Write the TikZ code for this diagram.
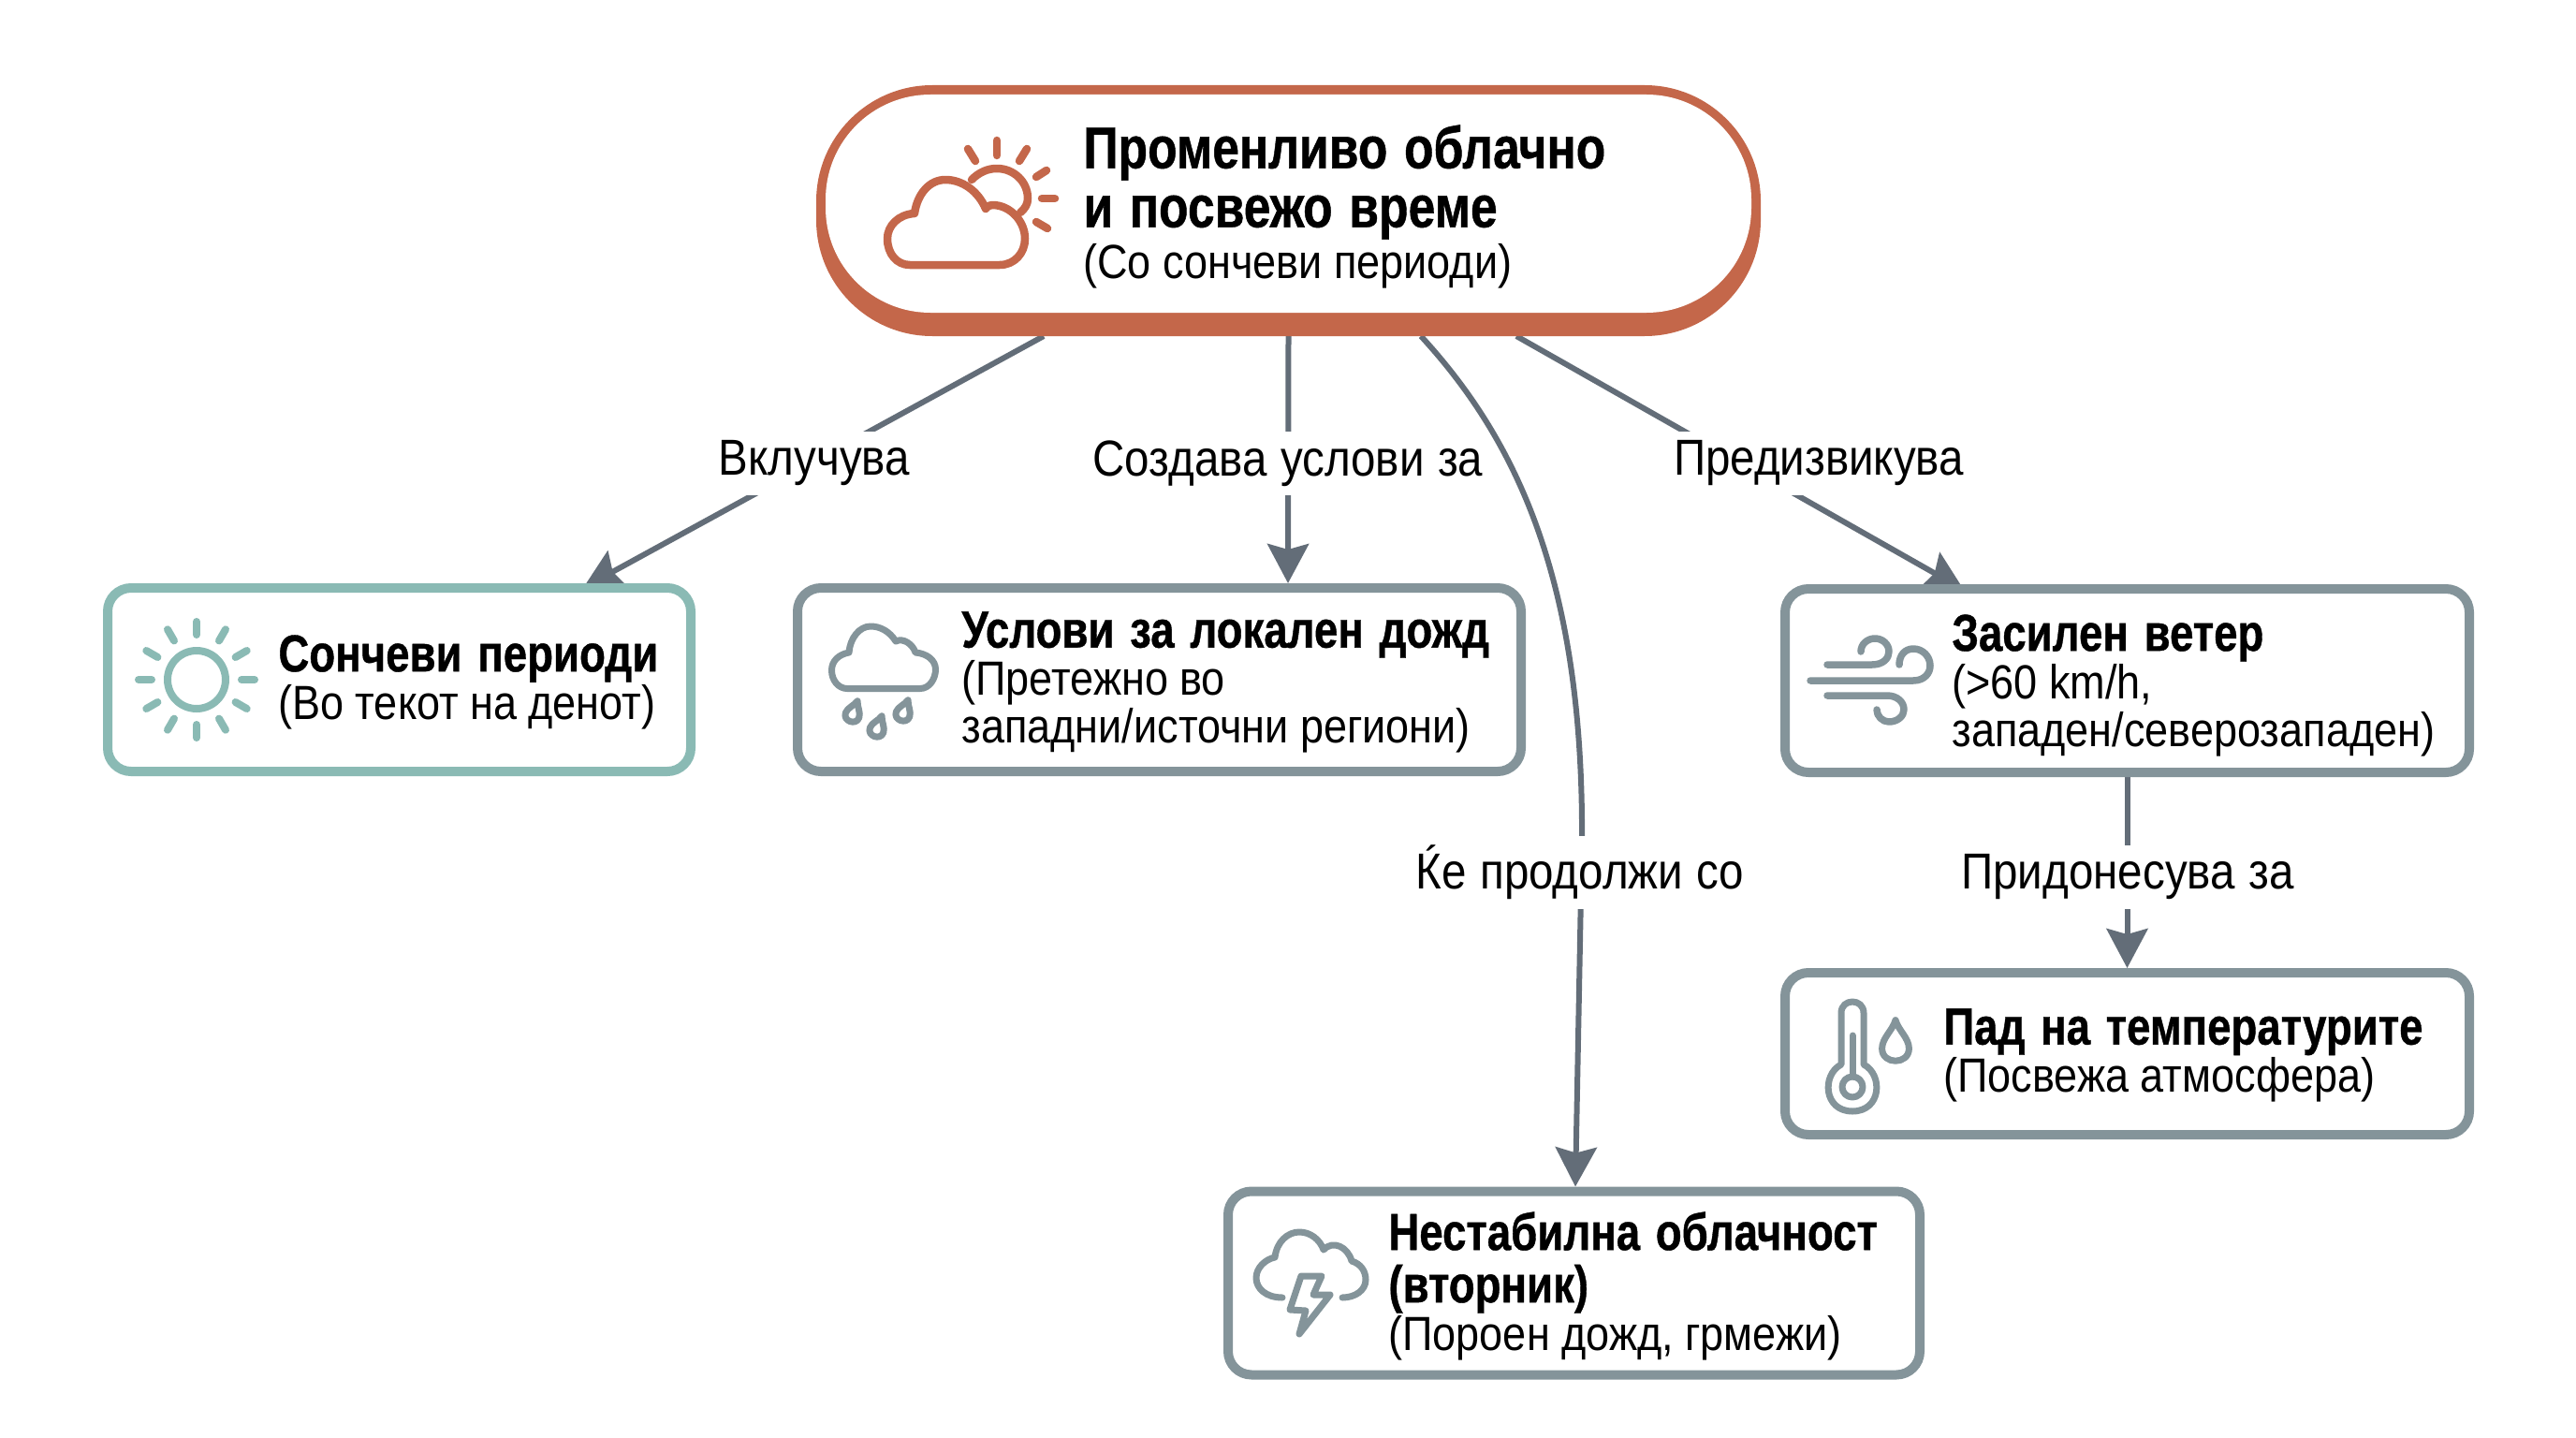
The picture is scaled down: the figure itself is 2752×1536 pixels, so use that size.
\documentclass[tikz,border=0pt]{standalone}
\usepackage{fontspec}
\setmainfont[FakeStretch=0.88,WordSpace=1.1,BoldFeatures={FakeStretch=0.82,WordSpace=1.5,FakeBold=0.7}]{Liberation Sans}
\usetikzlibrary{arrows.meta,backgrounds}
\definecolor{rustmain}{HTML}{C4674A}
\definecolor{tealbox}{HTML}{8ABAB4}
\definecolor{slatebox}{HTML}{84949A}
\definecolor{slatearrow}{HTML}{636D78}
\newcommand{\headfont}{\fontsize{27.8}{25.5}\selectfont\bfseries\spaceskip=.3em\relax}
\newcommand{\subfont}{\fontsize{25.6}{25.5}\selectfont\spaceskip=.24em\relax}

\begin{document}
\begin{tikzpicture}[
    x=0.5pt, y=-0.5pt,
    infobox/.style={rounded corners=12.5pt, line width=5pt, fill=white, outer sep=0pt},
    sunbox/.style={infobox, draw=tealbox, minimum height=98pt},
    greybox/.style={infobox, draw=slatebox, minimum height=98pt},
    blocktext/.style={anchor=north west, inner sep=0pt, text width=370pt, align=left},
    edgetext/.style={fill=white, inner xsep=3pt, inner ysep=5pt, font=\fontsize{27}{28}\selectfont},
    arrow/.style={-{Stealth[length=21pt, width=22pt, inset=3pt]}, line width=3pt, draw=slatearrow},
    icon/.style={line cap=round, line join=round},
    drop/.pic={\draw (0,-14) .. controls (2,-7) and (9,-2) .. (9,5) .. controls (9,16) and (-9,16) .. (-9,5) .. controls (-9,-2) and (-2,-7) .. (0,-14) -- cycle;}
  ]
    \useasboundingbox (0,0) rectangle (2752,1536);

    % top pill
    \node[fill=rustmain, rounded corners=62pt, minimum width=504.5pt, minimum height=134pt, inner sep=0pt, outer sep=0pt] (main) at (1376.5,225) {};
    \node[fill=white, rounded corners=56pt, minimum width=494.5pt, minimum height=116.5pt, inner sep=0pt] (maininner) at (1376.5,217.5) {};
    \node[blocktext] (maintext) at (1157,133) {{\fontsize{31.5}{31.5}\selectfont\bfseries\spaceskip=.28em\relax Променливо облачно\\и посвежо време\par}{\subfont\baselineskip=27.5pt (Со сончеви периоди)\par}};

    % boxes
    \node[sunbox, minimum width=311.5pt] (sun) at (426.5,726) {};
    \node[greybox, minimum width=386.5pt] (rain) at (1238.5,726) {};
    \node[greybox, minimum width=365.5pt] (wind) at (2272.5,727) {};
    \node[greybox, minimum width=365.5pt, minimum height=86.5pt] (temp) at (2272.5,1125.5) {};
    \node[greybox, minimum width=369.5pt] (storm) at (1681.5,1370.5) {};

    \node[blocktext] (suntext) at (297,678) {{\headfont Сончеви периоди\par}{\subfont (Во текот на денот)\par}};
    \node[blocktext] (raintext) at (1027,653) {{\headfont Услови за локален дожд\par}{\subfont (Претежно во\\западни/источни региони)\par}};
    \node[blocktext] (windtext) at (2085,656) {{\headfont Засилен ветер\par}{\subfont (>60 km/h,\\западен/северозападен)\par}};
    \node[blocktext] (temptext) at (2076,1077) {{\headfont Пад на температурите\par}{\subfont (Посвежа атмосфера)\par}};
    \node[blocktext] (stormtext) at (1483,1294) {{\headfont\baselineskip=28pt Нестабилна облачност\\(вторник)\par}{\subfont (Пороен дожд, грмежи)\par}};

    % connector labels
    \node[edgetext] (lblsun) at (870,495) {Вклучува};
    \node[edgetext] (lblrain) at (1376,495) {Создава услови за};
    \node[edgetext] (lblstorm) at (1688,932) {Ќе продолжи со};
    \node[edgetext] (lblwind) at (1943,495) {Предизвикува};
    \node[edgetext] (lbltemp) at (2273,937) {Придонесува за};

    \coordinate (stormbend) at (1690,900);

    \begin{pgfonlayer}{background}
      \draw[arrow] ([xshift=-130.75pt]main.south) -- ([xshift=98.25pt]sun.north);
      \draw[arrow] (main.south) -- ([xshift=68.75pt, yshift=2.5pt]rain.north);
      \draw[arrow] ([xshift=70.75pt]main.south) .. controls (1620,470) and (1692,620) .. (stormbend) -- ([xshift=0.75pt, yshift=2.5pt]storm.north);
      \draw[arrow] ([xshift=121.75pt]main.south) -- ([xshift=-87.25pt, yshift=-0.5pt]wind.north);
      \draw[arrow] (wind.south) -- ([yshift=2.5pt]temp.north);
    \end{pgfonlayer}

    % cloud and sun
    \begin{scope}[icon, draw=rustmain, line width=4.25pt]
      \draw (972,283) -- (1068,283) .. controls (1084,283) and (1095,270) .. (1095,255) .. controls (1095,237) and (1080,219) .. (1060,219) .. controls (1058,219) and (1055,220) .. (1053,223) .. controls (1045,204) and (1028,192) .. (1010,192) .. controls (993,192) and (980,207) .. (977,228) .. controls (960,229) and (948,241) .. (948,255) .. controls (948,271) and (958,283) .. (972,283) -- cycle;
      \draw (1038,192) .. controls (1046,184) and (1055,180) .. (1065,180) .. controls (1083,180) and (1098,194) .. (1098,212) .. controls (1098,218) and (1095,223) .. (1090,227);
      \draw (1065,150) -- (1065,166);
      \draw (1034,159) -- (1042,172);
      \draw (1097,159) -- (1089,172);
      \draw (1118,182) -- (1107,189);
      \draw (1113,212) -- (1127,212);
      \draw (1107,237) -- (1119,244);
    \end{scope}

    % sun
    \begin{scope}[icon, draw=tealbox, line width=4pt]
      \draw (210,726) circle[radius=31];
      \foreach \a in {0,30,...,330} {
        \draw (\a:48) ++(210,726) -- ++(\a:14);
      }
    \end{scope}

    % rain cloud
    \begin{scope}[icon, draw=slatebox, line width=3.5pt]
      \draw (905,735.5) -- (983,735.5) .. controls (993,735.5) and (999.5,725) .. (999.5,715) .. controls (999.5,705) and (990,698) .. (978,697) .. controls (975,688) and (965,681) .. (957,685) .. controls (950,674) and (940,669) .. (930,669) .. controls (918,669) and (908,682) .. (907,697) .. controls (896,699) and (888.5,706) .. (888.5,716) .. controls (888.5,727) and (896,735.5) .. (905,735.5) -- cycle;
      \pic[scale=0.85, rotate=-20] at (912,760) {drop};
      \pic[scale=0.85, rotate=-20] at (938,776) {drop};
      \pic[scale=0.85, rotate=-20] at (966,759) {drop};
    \end{scope}

    % wind
    \begin{scope}[icon, draw=slatebox, line width=3.75pt]
      \draw (1934,727) -- (2044,727) .. controls (2056,727) and (2062,719) .. (2062,711) .. controls (2062,701) and (2054,693) .. (2044,693) .. controls (2035,693) and (2029,700) .. (2029,710);
      \draw (1952,710) -- (2000,710) .. controls (2012,710) and (2018,703) .. (2018,696) .. controls (2018,688) and (2011,682) .. (2003,682) .. controls (1995,682) and (1988,688) .. (1988,696);
      \draw (1952,743) -- (2016,743) .. controls (2027,743) and (2034,750) .. (2034,758) .. controls (2034,765) and (2027,771) .. (2018,771) .. controls (2011,771) and (2005,765) .. (2005,758);
    \end{scope}

    % thermometer
    \begin{scope}[icon, draw=slatebox, line width=3.5pt]
      \draw (1967,1137) -- (1967,1082) .. controls (1967,1066) and (1991,1066) .. (1991,1082) -- (1991,1137) .. controls (2012,1148) and (2010,1187) .. (1979,1187) .. controls (1948,1187) and (1946,1148) .. (1967,1137) -- cycle;
      \draw (1979,1161) circle[radius=11];
      \draw (1979,1106) -- (1979,1150);
      \pic[scale=1.6] at (2025,1112) {drop};
    \end{scope}

    % thunder cloud
    \begin{scope}[icon, draw=slatebox, line width=3.5pt]
      \draw (1370,1386) .. controls (1352,1386) and (1342,1376) .. (1342,1365) .. controls (1342,1354) and (1352,1345) .. (1362,1343) .. controls (1364,1326) and (1376,1316) .. (1388,1316) .. controls (1400,1316) and (1410,1324) .. (1414,1335) .. controls (1424,1324) and (1440,1332) .. (1444,1347) .. controls (1454,1350) and (1459,1358) .. (1459,1367) .. controls (1459,1378) and (1448,1386) .. (1434,1386);
      \draw (1390,1363) -- (1412,1363) -- (1403,1383) -- (1421,1383) -- (1388,1425) -- (1395,1400) -- (1378,1399) -- cycle;
    \end{scope}
  \end{tikzpicture}
\end{document}
